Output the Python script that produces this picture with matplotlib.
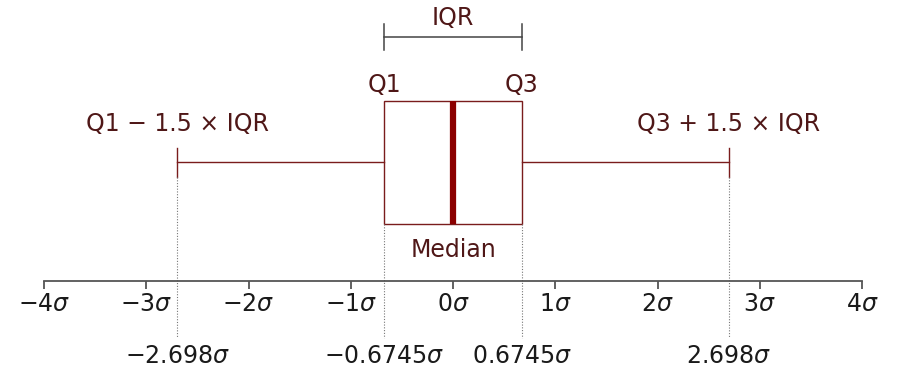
import numpy as np
import matplotlib
matplotlib.use("Agg")
import matplotlib.pyplot as plt

# box statistics of a standard normal, in units of sigma
q1, med, q3 = -0.6745, 0.0, 0.6745
whislo, whishi = -2.698, 2.698
ticks = [-4, -3, -2, -1, 0, 1, 2, 3, 4]
marks = [whislo, q1, q3, whishi]
mark_labels = [r"$-2.698\sigma$", r"$-0.6745\sigma$", r"$0.6745\sigma$", r"$2.698\sigma$"]

text_c = "#4f1717"
box_c = "#7a1c1c"
med_c = "#8b0000"
fs = 17

fig = plt.figure(figsize=(8.97, 3.71), dpi=100)
ax = fig.add_axes([44 / 897, 90 / 371, 818 / 897, 281 / 371])
ax.set_xlim(-4, 4)
ax.set_ylim(0, 281)

stats = [dict(med=med, q1=q1, q3=q3, whislo=whislo, whishi=whishi, fliers=[])]
ax.bxp(stats, positions=[119], widths=123, orientation="horizontal",
       capwidths=29, patch_artist=True, manage_ticks=False,
       boxprops=dict(facecolor="white", edgecolor=box_c, linewidth=1.0),
       whiskerprops=dict(color=box_c, linewidth=1.0),
       capprops=dict(color=box_c, linewidth=1.0),
       medianprops=dict(color=med_c, linewidth=4.5))

# dotted guide lines down to the secondary labels
for v in [q1, q3]:
    ax.plot([v, v], [57, -57], ls=(0, (1, 1.5)), color="#777777", lw=0.8, clip_on=False)
for v in [whislo, whishi]:
    ax.plot([v, v], [104, -57], ls=(0, (1, 1.5)), color="#777777", lw=0.8, clip_on=False)
for v, lab in zip(marks, mark_labels):
    ax.text(v, -75, lab, ha="center", va="center", fontsize=fs, color="#1a1a1a")

# IQR bracket
ax.plot([q1, q3], [244, 244], color="#444444", lw=1.1, clip_on=False)
for v in [q1, q3]:
    ax.plot([v, v], [231, 257], color="#444444", lw=1.1, clip_on=False)
ax.text(med, 263, "IQR", ha="center", va="center", fontsize=fs, color=text_c)

ax.text(q1, 196, "Q1", ha="center", va="center", fontsize=fs, color=text_c)
ax.text(q3, 196, "Q3", ha="center", va="center", fontsize=fs, color=text_c)
ax.text(med, 31, "Median", ha="center", va="center", fontsize=fs, color=text_c)
ax.text(whislo, 157, "Q1 \u2212 1.5 \u00d7 IQR", ha="center", va="center",
        fontsize=fs, color=text_c)
ax.text(whishi, 157, "Q3 + 1.5 \u00d7 IQR", ha="center", va="center",
        fontsize=fs, color=text_c)

ax.set_xticks(ticks)
ax.set_xticklabels([r"$%d\sigma$" % t if t >= 0 else r"$-%d\sigma$" % -t for t in ticks],
                   fontsize=fs, color="#1a1a1a")
ax.tick_params(axis="x", length=6, width=1.3, color="#555555", pad=2)
ax.set_yticks([])
for s in ["top", "left", "right"]:
    ax.spines[s].set_visible(False)
ax.spines["bottom"].set_color("#555555")
ax.spines["bottom"].set_linewidth(1.3)
ax.patch.set_visible(False)

fig.savefig("out.png", dpi=100)
